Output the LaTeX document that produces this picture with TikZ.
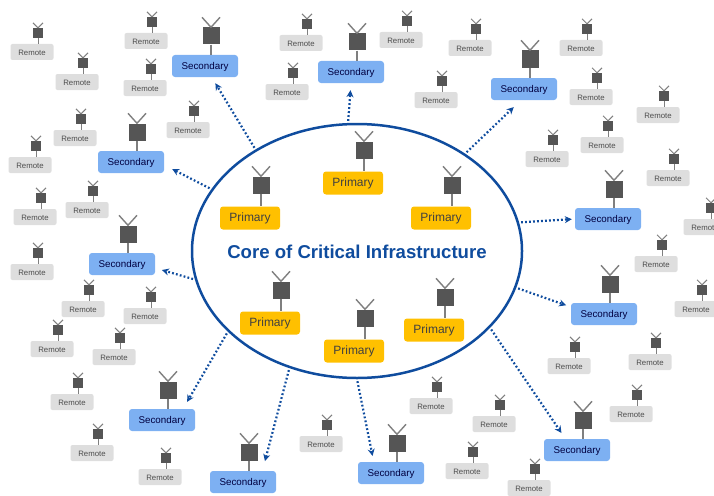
\documentclass[tikz,border=0pt]{standalone}
\usepackage{fontspec}
\setmainfont{Liberation Sans}
\usetikzlibrary{shapes.geometric,arrows.meta}
\definecolor{coreblue}{HTML}{0F4C9E}
\definecolor{secblue}{HTML}{7DB0F2}
\definecolor{primgold}{HTML}{FFC000}
\definecolor{remgray}{HTML}{DEDEDE}
\definecolor{headgray}{HTML}{555555}
\definecolor{mastgray}{HTML}{7F7F7F}
\tikzset{
  primarybox/.style={fill=primgold,rounded corners=3pt,minimum width=60pt,minimum height=23pt,inner sep=0pt,text height=.72em,text depth=0pt,font=\fontsize{12}{12}\selectfont,text=black!75},
  secondarybox/.style={fill=secblue,rounded corners=3pt,minimum width=66pt,minimum height=22pt,inner sep=0pt,text height=.72em,text depth=0pt,font=\fontsize{9.8}{11}\selectfont,text=black!75!blue},
  remotebox/.style={fill=remgray,rounded corners=2pt,minimum width=43pt,minimum height=16pt,inner sep=0pt,text height=.72em,text depth=0pt,font=\fontsize{7.8}{9}\selectfont,text=black!70},
  bighead/.style={fill=headgray,minimum size=17pt,inner sep=0pt},
  smallhead/.style={fill=headgray,minimum size=10pt,inner sep=0pt},
  mast/.style={draw=mastgray,line width=1.4pt},
  thinmast/.style={draw=mastgray,line width=1pt},
  link/.style={draw=coreblue,line width=2.2pt,dash pattern=on 1.8pt off 2.2pt,-{Stealth[length=7pt,width=7pt]}},
}
% name, box style, text, box x, box y
\newcommand{\bigstation}[7]{
  \node[#2] (#1) at (#4,#5) {#3};
  \node[bighead] (#1h) at (#4+#6,#5+#7) {};
  \draw[mast] (#1h.south) -- (#1h.south |- #1.north);
  \draw[mast] (#1h.north) -- ++(-9,-10);
  \draw[mast] (#1h.north) -- ++(9,-10);
}
\begin{document}
\begin{tikzpicture}[x=1pt,y=-1pt]
\useasboundingbox (0,0) rectangle (714,495);

\node[draw=coreblue,line width=2.5pt,ellipse,minimum width=330pt,minimum height=254pt,inner sep=0pt] (core) at (357,251) {};
\node[text=coreblue,font=\fontsize{18.6}{20}\selectfont\bfseries] (title) at (357,252) {Core of Critical Infrastructure};

% primary
\foreach \x/\y [count=\i] in {250/218,353/183,441/218,270/323,354/351,434/330} {
  \bigstation{p\i}{primarybox}{Primary}{\x}{\y}{11}{-33}
}

% secondary
\foreach \x/\y [count=\i] in {205/66,351/72,524/89,608/219,604/314,577/450,391/473,243/482,162/420,122/264,131/162} {
  \bigstation{s\i}{secondarybox}{Secondary}{\x}{\y}{6}{-30}
}

% remote
\foreach \x/\y [count=\i] in {32/52,77/82,146/41,145/88,75/138,30/165,188/130,35/217,87/210,32/272,83/309,145/316,52/349,114/357,72/402,92/453,160/477,301/43,287/92,401/40,470/48,436/100,581/48,591/97,658/115,547/159,602/145,668/178,705/227,656/264,696/309,650/362,569/366,631/414,431/406,494/424,467/471,529/488,321/444} {
  \node[remotebox] (r\i) at (\x,\y) {Remote};
  \node[smallhead] (r\i h) at (\x+6,\y-19) {};
  \draw[thinmast] (r\i h.south) -- (r\i h.south |- r\i.north);
  \draw[thinmast] (r\i h.north) -- ++(-5,-5);
  \draw[thinmast] (r\i h.north) -- ++(5,-5);
}

% links from the core
\foreach \i/\a/\b/\g in {1/135/-59/7,2/94/-90/7,3/42/-105/10,4/10/180/3,5/-13/168/5,6/-30/136/7,7/-90/147/6,8/-120/30/10,9/-148/28/8,10/-170/-7/7,11/157/-5/9} {
  \draw[link,shorten >=\g pt,shorten <=2pt] (core.\a) -- (s\i.\b);
}
\end{tikzpicture}
\end{document}
